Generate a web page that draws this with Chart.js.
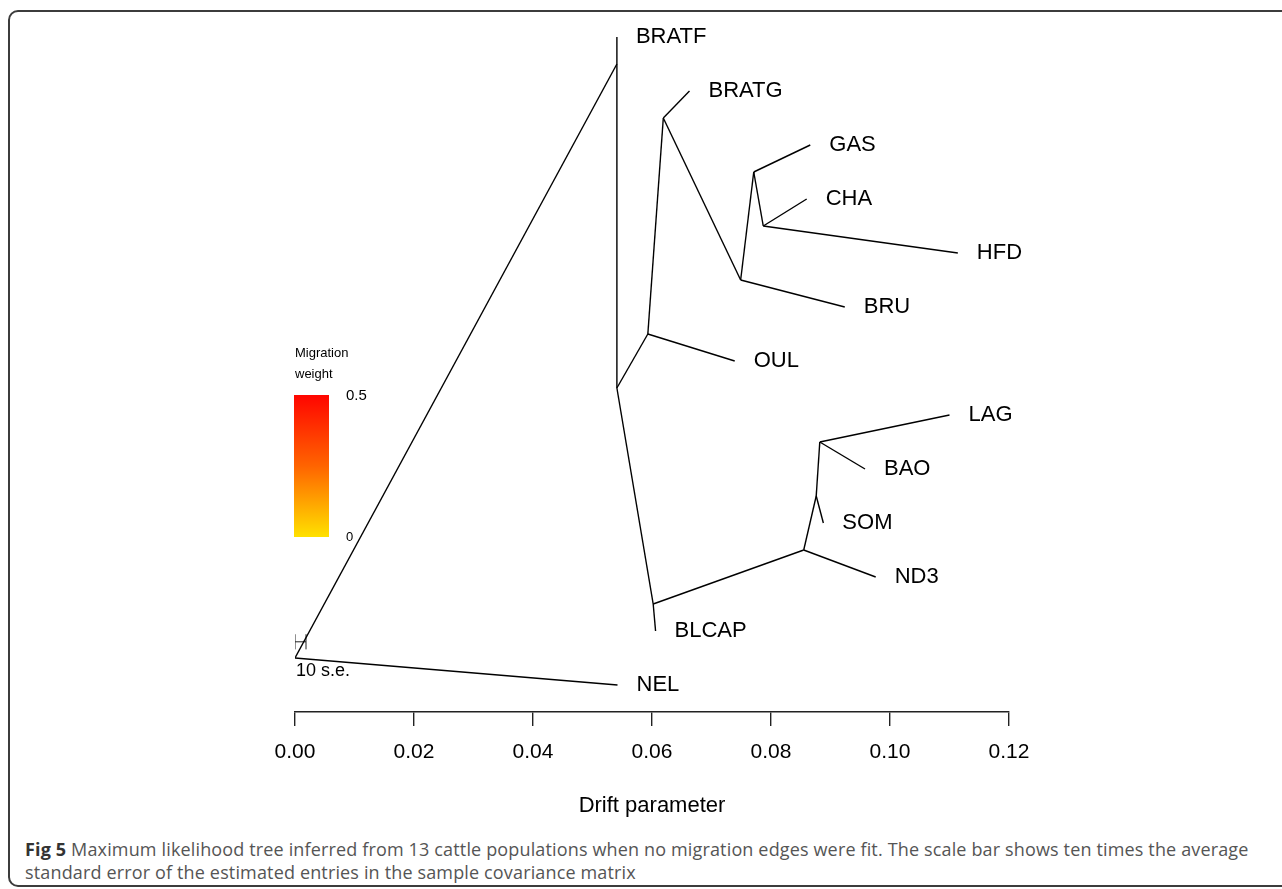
<!DOCTYPE html>
<html>
<head>
<meta charset="utf-8">
<script src="https://cdn.jsdelivr.net/npm/chart.js@4.4.1/dist/chart.umd.min.js"></script>
<style>
  body { margin: 0; background: #fff; overflow: hidden; width: 1282px; height: 889px; position: relative; }
  #frame { position: absolute; left: 8px; top: 10px; width: 1300px; height: 877px; border: 2px solid #3c3c3c; border-radius: 10px; box-sizing: border-box; }
  #chart { position: absolute; left: 0; top: 0; }
  #caption { position: absolute; left: 25px; top: 838px; font-family: 'Open Sans', sans-serif; font-size: 18px; line-height: 23px; color: #555; white-space: nowrap; letter-spacing: 0.15px; }
  #caption b { color: #333; }
</style>
</head>
<body>
<div id="frame"></div>
<canvas id="chart" width="1282" height="830"></canvas>
<div id="caption"><b>Fig 5</b> Maximum likelihood tree inferred from 13 cattle populations when no migration edges were fit. The scale bar shows ten times the average<br>standard error of the estimated entries in the sample covariance matrix</div>
<script>
// internal nodes of the tree (drift, row)
const nodeNames = ['root', 'a', 'b', 'c', 'e', 'f', 'g', 'h', 'd', 'i', 'j', 'k'];
const nodeDrift = [0, 0.0541, 0.0541, 0.0593, 0.0619, 0.0749, 0.0771, 0.0787, 0.0602, 0.0855, 0.0876, 0.0882];
const nodeRow   = [0.5, 11.5, 5.5, 6.5, 10.5, 7.5, 9.5, 8.5, 1.5, 2.5, 3.5, 4.5];

// populations (leaves)
const tipNames = ['BRATF', 'BRATG', 'GAS', 'CHA', 'HFD', 'BRU', 'OUL', 'LAG', 'BAO', 'SOM', 'ND3', 'BLCAP', 'NEL'];
const tipDrift = [0.0541, 0.0663, 0.0866, 0.0860, 0.1114, 0.0924, 0.0739, 0.1100, 0.0958, 0.0888, 0.0976, 0.0606, 0.0542];
const tipRow   = [12, 11, 10, 9, 8, 7, 6, 5, 4, 3, 2, 1, 0];

// branches
const edgeFrom = ['root', 'root', 'a', 'a', 'b', 'b', 'c', 'c', 'e', 'e', 'f', 'f', 'g', 'g', 'h', 'h', 'd', 'd', 'i', 'i', 'j', 'j', 'k', 'k'];
const edgeTo   = ['a', 'NEL', 'BRATF', 'b', 'c', 'd', 'OUL', 'e', 'BRATG', 'f', 'BRU', 'g', 'GAS', 'h', 'CHA', 'HFD', 'BLCAP', 'i', 'ND3', 'j', 'SOM', 'k', 'LAG', 'BAO'];

const xTicks = [0, 0.02, 0.04, 0.06, 0.08, 0.10, 0.12];
const seBar = 0.00185;      // 10 s.e. in drift units
const seRow = 0.8;
const legendLabels = ['0.5', '0'];

function pos(name) {
  let i = nodeNames.indexOf(name);
  if (i >= 0) return { x: nodeDrift[i], y: nodeRow[i] };
  i = tipNames.indexOf(name);
  return { x: tipDrift[i], y: tipRow[i] };
}

const datasets = edgeFrom.map((f, i) => ({
  data: [pos(f), pos(edgeTo[i])],
  showLine: true,
  borderColor: '#000',
  borderWidth: 1.4,
  pointRadius: 0
}));

// scale bar "H"
const seLines = [
  [{ x: 0, y: seRow }, { x: seBar, y: seRow }],
  [{ x: 0, y: seRow - 0.14 }, { x: 0, y: seRow + 0.14 }],
  [{ x: seBar, y: seRow - 0.14 }, { x: seBar, y: seRow + 0.14 }]
];
seLines.forEach(d => datasets.push({ data: d, showLine: true, borderColor: '#222', borderWidth: 1, pointRadius: 0 }));

const labelsPlugin = {
  id: 'treeLabels',
  afterDatasetsDraw(chart) {
    const { ctx, scales: { x, y } } = chart;
    ctx.save();
    ctx.fillStyle = '#000';
    ctx.textAlign = 'left';
    ctx.textBaseline = 'middle';
    ctx.font = '22px "Liberation Sans", Arial, sans-serif';
    tipNames.forEach((n, i) => {
      ctx.fillText(n, x.getPixelForValue(tipDrift[i]) + 19, y.getPixelForValue(tipRow[i]));
    });

    ctx.font = '18px "Liberation Sans", Arial, sans-serif';
    ctx.fillText('10 s.e.', x.getPixelForValue(0) + 1, y.getPixelForValue(seRow) + 29);

    // migration weight colour key
    const lx = 294, ly = 395, lw = 35, lh = 142;
    ctx.font = '13px "Liberation Sans", Arial, sans-serif';
    ctx.fillText('Migration', lx + 1, 353);
    ctx.fillText('weight', lx + 1, 374);
    const g = ctx.createLinearGradient(0, ly, 0, ly + lh);
    g.addColorStop(0, 'rgb(255,5,0)');
    g.addColorStop(0.5, 'rgb(255,100,0)');
    g.addColorStop(1, 'rgb(255,225,0)');
    ctx.fillStyle = g;
    ctx.fillRect(lx, ly, lw, lh);
    ctx.fillStyle = '#000';
    ctx.font = '15px "Liberation Sans", Arial, sans-serif';
    ctx.fillText(legendLabels[0], 346, 396);
    ctx.font = '13px "Liberation Sans", Arial, sans-serif';
    ctx.fillText(legendLabels[1], 346, 537);
    ctx.restore();
  }
};

Chart.defaults.font.family = '"Liberation Sans", Arial, sans-serif';

new Chart(document.getElementById('chart'), {
  type: 'scatter',
  data: { datasets },
  options: {
    responsive: false,
    animation: false,
    layout: { padding: { left: 295, right: 273, top: 10, bottom: 0 } },
    plugins: { legend: { display: false }, tooltip: { enabled: false } },
    scales: {
      x: {
        type: 'linear',
        min: 0,
        max: 0.12,
        afterBuildTicks: s => { s.ticks = xTicks.map(v => ({ value: v })); },
        afterFit: s => { s.height = 118; },
        ticks: {
          color: '#000',
          font: { size: 21 },
          padding: 14,
          maxRotation: 0,
          autoSkip: false,
          callback: v => v.toFixed(2)
        },
        grid: { drawOnChartArea: false, drawTicks: true, tickLength: 14, color: '#222', lineWidth: 1.4 },
        border: { display: true, color: '#222', width: 1.4 },
        title: { display: true, text: 'Drift parameter', color: '#000', font: { size: 22 }, padding: { top: 0, bottom: 11 } }
      },
      y: { type: 'linear', min: -0.5, max: 12.5, display: false }
    }
  },
  plugins: [labelsPlugin]
});
</script>
</body>
</html>
